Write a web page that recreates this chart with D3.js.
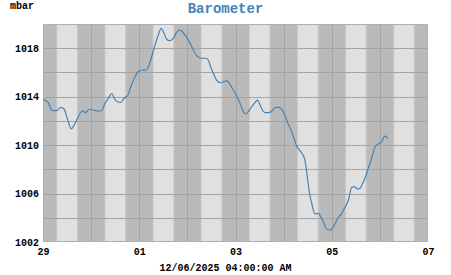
<!DOCTYPE html>
<html>
<head>
<meta charset="utf-8">
<script src="https://cdn.jsdelivr.net/npm/d3@7"></script>
<style>
  body { margin: 0; background: #ffffff; }
  text { font-family: "Liberation Mono", "DejaVu Sans Mono", monospace; font-weight: bold; }
</style>
</head>
<body>
<svg id="chart" width="451" height="275"></svg>
<script>
// Chart texts
const chartTitle = "Barometer";
const unitLabel = "mbar";
const timestampLabel = "12/06/2025 04:00:00 AM";

// Time range (UTC so the sandbox timezone does not matter)
const startTime = Date.UTC(2025, 10, 29, 0, 0);
const endTime = Date.UTC(2025, 11, 7, 0, 0);

// Readings: hours after 29 Nov 00:00, pressure in mbar
const readingHours = [
  0, 2.6, 4.7, 6.8, 9.0, 10.5, 12.1, 14.1, 15.1, 16.8,
  18.5, 19.8, 21.2, 23.1, 25.1, 27.6, 29.3, 30.9, 32.6, 34.3,
  35.7, 37.1, 38.7, 40.6, 42.4, 43.7, 45.4, 47.3, 49.2, 51.5,
  53.4, 55.4, 57.5, 58.9, 60.0, 61.7, 63.0, 65.0, 66.3, 67.8,
  69.2, 70.8, 72.5, 74.2, 75.8, 77.5, 79.2, 81.3, 82.4, 83.6,
  85.3, 86.9, 88.6, 90.3, 91.6, 92.9, 94.6, 96.3, 98.2, 99.9,
  101.2, 102.4, 104.1, 105.7, 106.9, 107.9, 109.4, 110.7, 112.9, 114.6,
  116.1, 117.8, 119.0, 120.2, 121.8, 123.5, 125.2, 126.5, 128.2, 129.8,
  130.7, 131.8, 132.8, 134.0, 135.7, 137.3, 138.5, 139.8, 141.5, 143.1,
  144.3, 145.6, 147.3, 149.0, 150.6, 152.3, 154.0, 155.3, 156.7, 158.1,
  159.4, 160.6, 162.2, 163.9, 165.6, 167.2, 168.9, 170.1, 170.9, 172.0
];
const pressureValues = [
  1013.78, 1013.50, 1012.84, 1012.84, 1013.11, 1012.98, 1012.21, 1011.35, 1011.52, 1012.07,
  1012.63, 1012.82, 1012.68, 1012.96, 1012.90, 1012.80, 1012.86, 1013.45, 1013.87, 1014.26,
  1013.81, 1013.58, 1013.52, 1013.89, 1014.14, 1014.80, 1015.46, 1016.04, 1016.18, 1016.20,
  1016.86, 1017.99, 1019.09, 1019.64, 1019.36, 1018.74, 1018.62, 1018.82, 1019.23, 1019.50,
  1019.42, 1019.09, 1018.68, 1018.13, 1017.58, 1017.25, 1017.17, 1017.17, 1017.03, 1016.47,
  1015.79, 1015.29, 1015.15, 1015.24, 1015.32, 1015.10, 1014.63, 1014.14, 1013.50, 1012.76,
  1012.57, 1012.76, 1013.17, 1013.50, 1013.72, 1013.45, 1012.90, 1012.68, 1012.68, 1012.90,
  1013.12, 1013.12, 1012.96, 1012.63, 1011.93, 1011.31, 1010.56, 1009.93, 1009.53, 1009.14,
  1008.69, 1007.39, 1006.15, 1005.20, 1004.31, 1004.37, 1004.09, 1003.68, 1003.05, 1002.99,
  1003.13, 1003.49, 1004.04, 1004.37, 1004.86, 1005.47, 1006.52, 1006.57, 1006.38, 1006.43,
  1006.85, 1007.26, 1008.09, 1008.91, 1009.87, 1010.09, 1010.28, 1010.69, 1010.75, 1010.56
];

// Axis ticks
const yDomain = [1002, 1020];
const yLabelTicks = [1002, 1006, 1010, 1014, 1018];
const yGridTicks = [1004, 1006, 1008, 1010, 1012, 1014, 1016, 1018];

// Daylight shading (hours of the day)
const sunriseHour = 7.2;
const sunsetHour = 16.9;
const twilightHours = 0.5;

// Layout
const width = 451, height = 275;
const margin = {top: 24, right: 23, bottom: 33, left: 43};
const plotW = width - margin.left - margin.right;
const plotH = height - margin.top - margin.bottom;

const nightColour = "#bababa";
const dayColour = "#e0e0e0";
const twilightColour = "#cdcdcd";
const gridColour = "#a4a4a4";
const lineColour = "#4682b4";

const hour = 3600 * 1000;
const data = readingHours.map((h, i) => ({t: new Date(startTime + h * hour), v: pressureValues[i]}));

const svg = d3.select("#chart");

const x = d3.scaleUtc()
  .domain([new Date(startTime), new Date(endTime)])
  .range([margin.left, margin.left + plotW]);
const y = d3.scaleLinear()
  .domain(yDomain)
  .range([margin.top + plotH, margin.top]);

// Night background over the whole plot
svg.append("rect")
  .attr("x", margin.left).attr("y", margin.top)
  .attr("width", plotW).attr("height", plotH)
  .attr("fill", nightColour);

// Day bands with a short twilight either side
const days = d3.utcDay.range(new Date(startTime), new Date(endTime));
const bands = [];
days.forEach(d => {
  const base = d.getTime();
  bands.push({from: base + (sunriseHour - twilightHours) * hour, to: base + (sunsetHour + twilightHours) * hour, fill: twilightColour});
  bands.push({from: base + sunriseHour * hour, to: base + sunsetHour * hour, fill: dayColour});
});
svg.append("g")
  .selectAll("rect")
  .data(bands)
  .enter()
  .append("rect")
    .attr("x", d => x(new Date(d.from)))
    .attr("y", margin.top)
    .attr("width", d => x(new Date(d.to)) - x(new Date(d.from)))
    .attr("height", plotH)
    .attr("fill", d => d.fill);

// Grid lines
svg.append("g")
  .selectAll("line")
  .data(days.slice(1))
  .enter()
  .append("line")
    .attr("x1", d => Math.round(x(d)) + 0.5).attr("x2", d => Math.round(x(d)) + 0.5)
    .attr("y1", margin.top).attr("y2", margin.top + plotH)
    .attr("stroke", gridColour).attr("stroke-width", 1);
svg.append("g")
  .selectAll("line")
  .data(yGridTicks)
  .enter()
  .append("line")
    .attr("x1", margin.left).attr("x2", margin.left + plotW)
    .attr("y1", d => Math.round(y(d)) + 0.5).attr("y2", d => Math.round(y(d)) + 0.5)
    .attr("stroke", gridColour).attr("stroke-width", 1);

// Plot frame
svg.append("rect")
  .attr("x", margin.left + 0.5).attr("y", margin.top + 0.5)
  .attr("width", plotW - 1).attr("height", plotH - 1)
  .attr("fill", "none").attr("stroke", "#b0b0b0").attr("stroke-width", 1);

// Pressure line
const line = d3.line()
  .x(d => x(d.t))
  .y(d => y(d.v))
  .curve(d3.curveMonotoneX);
svg.append("path")
  .datum(data)
  .attr("d", line)
  .attr("fill", "none")
  .attr("stroke", lineColour)
  .attr("stroke-width", 1.2);

// Y axis labels
const yAxis = d3.axisLeft(y).tickValues(yLabelTicks).tickSize(0).tickPadding(4).tickFormat(d3.format("d"));
const yAxisG = svg.append("g")
  .attr("transform", `translate(${margin.left},0)`)
  .call(yAxis);
yAxisG.select(".domain").remove();
yAxisG.selectAll("text").attr("font-size", 10).attr("fill", "#000")
  .style("font-family", "'Liberation Mono', monospace").style("font-weight", "bold");

// X axis labels every second day
const xAxis = d3.axisBottom(x).ticks(d3.utcDay.every(2)).tickSize(0).tickPadding(6).tickFormat(d3.utcFormat("%d"));
const xAxisG = svg.append("g")
  .attr("transform", `translate(0,${margin.top + plotH})`)
  .call(xAxis);
xAxisG.select(".domain").remove();
xAxisG.selectAll("text").attr("font-size", 10).attr("fill", "#000")
  .style("font-family", "'Liberation Mono', monospace").style("font-weight", "bold");

// Titles
svg.append("text")
  .attr("x", width / 2).attr("y", 13)
  .attr("text-anchor", "middle")
  .attr("font-size", 14)
  .attr("fill", lineColour)
  .text(chartTitle);
svg.append("text")
  .attr("x", 10).attr("y", 9)
  .attr("font-size", 10)
  .attr("fill", "#000")
  .text(unitLabel);
svg.append("text")
  .attr("x", width / 2).attr("y", 271)
  .attr("text-anchor", "middle")
  .attr("font-size", 10)
  .attr("fill", "#000")
  .text(timestampLabel);
</script>
</body>
</html>
